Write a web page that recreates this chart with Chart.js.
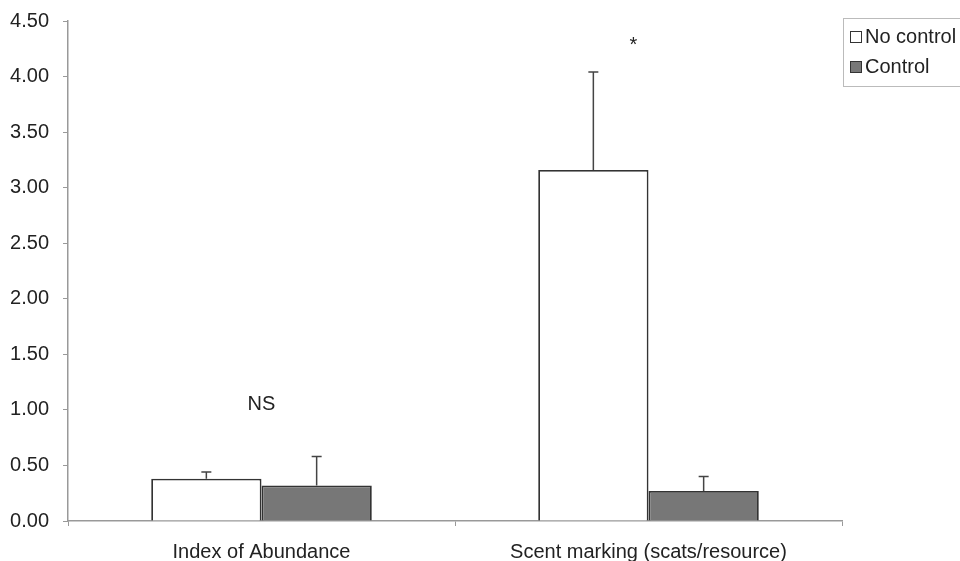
<!DOCTYPE html>
<html>
<head>
<meta charset="utf-8">
<script src="https://cdn.jsdelivr.net/npm/chart.js@4"></script>
<style>
    html, body { margin: 0; padding: 0; background: #fff; }
    #wrap { width: 960px; height: 561px; }
</style>
</head>
<body>
<div id="wrap"><canvas id="chart" width="960" height="561"></canvas></div>
<script>
// data
var categories = ['Index of Abundance', 'Scent marking (scats/resource)'];
var noControl = [0.38, 3.16];
var noControlErr = [0.06, 0.88];
var control = [0.32, 0.27];
var controlErr = [0.26, 0.13];
var signifLabels = ['NS', '*'];
var signifValues = [1.05, 4.28];

var FONT = '"Liberation Sans", Arial, sans-serif';

// error bars (upper only), significance marks and the boxed legend
var extrasPlugin = {
    id: 'extras',
    afterDatasetsDraw: function (chart) {
        var ctx = chart.ctx;
        var y = chart.scales.y;
        var x = chart.scales.x;
        var errs = [noControlErr, controlErr];

        ctx.save();
        ctx.strokeStyle = '#444';
        ctx.lineWidth = 1.5;
        errs.forEach(function (errArr, di) {
            var meta = chart.getDatasetMeta(di);
            meta.data.forEach(function (bar, i) {
                var v = chart.data.datasets[di].data[i];
                var top = y.getPixelForValue(v + errArr[i]);
                ctx.beginPath();
                ctx.moveTo(bar.x, bar.y);
                ctx.lineTo(bar.x, top);
                ctx.moveTo(bar.x - 5, top);
                ctx.lineTo(bar.x + 5, top);
                ctx.stroke();
            });
        });

        // NS / * marks
        ctx.fillStyle = '#222';
        ctx.font = '20px ' + FONT;
        ctx.textAlign = 'center';
        ctx.textBaseline = 'middle';
        signifLabels.forEach(function (txt, i) {
            var px = x.getPixelForValue(i);
            if (txt === '*') px -= 15;
            ctx.fillText(txt, px, y.getPixelForValue(signifValues[i]));
        });

        // legend box
        ctx.strokeStyle = '#bbb';
        ctx.lineWidth = 1;
        ctx.strokeRect(843.5, 18.5, 130, 68);
        ctx.textAlign = 'left';
        chart.data.datasets.forEach(function (ds, i) {
            var cy = 37 + i * 30;
            ctx.fillStyle = ds.backgroundColor;
            ctx.fillRect(850, cy - 6, 12, 12);
            ctx.strokeStyle = '#333';
            ctx.strokeRect(850.5, cy - 5.5, 11, 11);
            ctx.fillStyle = '#222';
            ctx.fillText(ds.label, 865, cy);
        });
        ctx.restore();
    }
};

var ctx = document.getElementById('chart').getContext('2d');
var chart = new Chart(ctx, {
    type: 'bar',
    data: {
        labels: categories,
        datasets: [{
            label: 'No control',
            data: noControl,
            backgroundColor: '#ffffff',
            borderColor: '#333333',
            borderWidth: 1.8,
            borderSkipped: 'bottom'
        }, {
            label: 'Control',
            data: control,
            backgroundColor: '#777777',
            borderColor: '#333333',
            borderWidth: 1.8,
            borderSkipped: 'bottom'
        }]
    },
    options: {
        responsive: false,
        animation: false,
        layout: {
            padding: { top: 21, right: 118, left: 0, bottom: 0 }
        },
        datasets: {
            bar: { categoryPercentage: 0.57, barPercentage: 1 }
        },
        scales: {
            x: {
                offset: true,
                grid: {
                    offset: true,
                    drawOnChartArea: false,
                    tickLength: 5,
                    color: '#999'
                },
                border: { color: '#999', width: 1.5 },
                ticks: {
                    color: '#222',
                    font: { family: FONT, size: 20 },
                    padding: 14
                },
                afterFit: function (scale) { scale.height = 40; }
            },
            y: {
                min: 0,
                max: 4.5,
                ticks: {
                    stepSize: 0.5,
                    color: '#222',
                    padding: 14,
                    font: { family: FONT, size: 20 },
                    callback: function (v) { return Number(v).toFixed(2); }
                },
                grid: {
                    drawOnChartArea: false,
                    tickLength: 5,
                    color: '#999'
                },
                border: { color: '#999', width: 1.5 },
                afterFit: function (scale) {
                    scale.width = 68;
                    scale.paddingTop = 0;
                    scale.paddingBottom = 0;
                }
            }
        },
        plugins: {
            legend: { display: false },
            tooltip: { enabled: false }
        }
    },
    plugins: [extrasPlugin]
});
</script>
</body>
</html>
